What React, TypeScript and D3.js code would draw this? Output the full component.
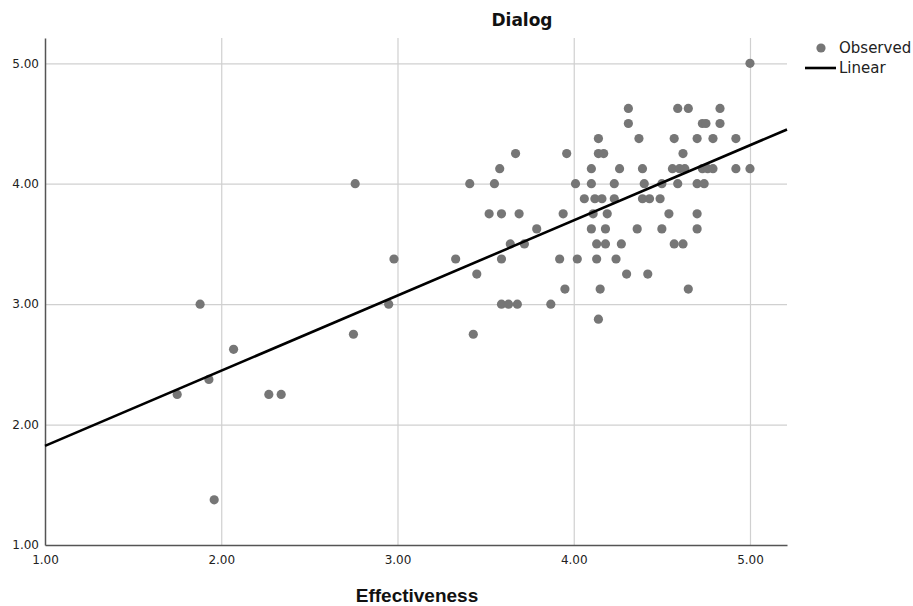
import { useEffect, useRef } from "react";
import * as d3 from "d3";

// Observed points: Effectiveness (x) vs Dialog (y)
const effectiveness = [
  1.75, 1.88, 1.93, 1.96, 2.07, 2.27, 2.34, 2.75, 2.76, 2.95, 2.98,
  3.33, 3.41, 3.43, 3.45, 3.52, 3.55, 3.58, 3.59, 3.59, 3.59, 3.63, 3.64, 3.67, 3.68, 3.69,
  3.72, 3.79, 3.87, 3.92, 3.94, 3.95, 3.96, 4.01, 4.02, 4.06, 4.10, 4.10, 4.10, 4.11, 4.12,
  4.13, 4.13, 4.14, 4.14, 4.14, 4.15, 4.16, 4.17, 4.18, 4.18, 4.19, 4.23, 4.23, 4.24, 4.26, 4.27,
  4.31, 4.59, 4.65, 4.83, 4.31, 4.73, 4.75, 4.83, 4.37, 4.57, 4.70, 4.79, 4.92, 4.62,
  4.39, 4.56, 4.60, 4.63, 4.73, 4.76, 4.79, 4.92, 5.00, 4.40, 4.50, 4.59, 4.70, 4.74,
  4.39, 4.43, 4.49, 4.54, 4.70, 4.36, 4.50, 4.70, 4.57, 4.62, 4.30, 4.42, 4.65, 5.00,
];
const dialog = [
  2.25, 3.0, 2.375, 1.375, 2.625, 2.25, 2.25, 2.75, 4.0, 3.0, 3.375,
  3.375, 4.0, 2.75, 3.25, 3.75, 4.0, 4.125, 3.75, 3.375, 3.0, 3.0, 3.5, 4.25, 3.0, 3.75,
  3.5, 3.625, 3.0, 3.375, 3.75, 3.125, 4.25, 4.0, 3.375, 3.875, 4.125, 4.0, 3.625, 3.75, 3.875,
  3.5, 3.375, 4.375, 4.25, 2.875, 3.125, 3.875, 4.25, 3.625, 3.5, 3.75, 4.0, 3.875, 3.375, 4.125, 3.5,
  4.625, 4.625, 4.625, 4.625, 4.5, 4.5, 4.5, 4.5, 4.375, 4.375, 4.375, 4.375, 4.375, 4.25,
  4.125, 4.125, 4.125, 4.125, 4.125, 4.125, 4.125, 4.125, 4.125, 4.0, 4.0, 4.0, 4.0, 4.0,
  3.875, 3.875, 3.875, 3.75, 3.75, 3.625, 3.625, 3.625, 3.5, 3.5, 3.25, 3.25, 3.125, 5.0,
];
const xTicks = [1, 2, 3, 4, 5];
const yTicks = [1, 2, 3, 4, 5];
const legendLabels = ["Observed", "Linear"];

export default function App() {
  const ref = useRef<SVGSVGElement>(null);

  useEffect(() => {
    if (!ref.current) return;
    const W = 913, H = 606;
    const ML = 45, MR = 126, MT = 38, MB = 61;
    const iW = W - ML - MR, iH = H - MT - MB;

    const svg = d3.select(ref.current).attr("width", W).attr("height", H);
    svg.selectAll("*").remove();
    const g = svg.append("g").attr("transform", `translate(${ML},${MT})`);

    const x = d3.scaleLinear().domain([1, 5.21]).range([0, iW]);
    const y = d3.scaleLinear().domain([1, 5.21]).range([iH, 0]);

    // Grid
    g.append("g")
      .call(d3.axisLeft(y).tickValues(yTicks.slice(1)).tickSize(-iW).tickFormat(() => ""))
      .call(s => s.select(".domain").remove())
      .call(s => s.selectAll("line").attr("stroke", "#d0d0d0").attr("stroke-width", 1.2));
    g.append("g").attr("transform", `translate(0,${iH})`)
      .call(d3.axisBottom(x).tickValues(xTicks.slice(1)).tickSize(-iH).tickFormat(() => ""))
      .call(s => s.select(".domain").remove())
      .call(s => s.selectAll("line").attr("stroke", "#d0d0d0").attr("stroke-width", 1.2));

    // Axes
    g.append("g").attr("transform", `translate(0,${iH})`)
      .call(d3.axisBottom(x).tickValues(xTicks).tickSize(0).tickPadding(10).tickFormat(d3.format(".2f")))
      .call(s => s.select(".domain").attr("stroke", "#555").attr("stroke-width", 1.5))
      .call(s => s.selectAll("text").attr("font-size", 12).attr("font-family", "DejaVu Sans").attr("fill", "#222"));
    g.append("g")
      .call(d3.axisLeft(y).tickValues(yTicks).tickSize(0).tickPadding(6).tickFormat(d3.format(".2f")))
      .call(s => s.select(".domain").attr("stroke", "#555").attr("stroke-width", 1.5))
      .call(s => s.selectAll("text").attr("font-size", 12).attr("font-family", "DejaVu Sans").attr("fill", "#222"));

    // Observed points
    const pts = effectiveness.map((v, i) => ({ x: v, y: dialog[i] }));
    g.selectAll("circle.pt")
      .data(pts)
      .enter().append("circle")
      .attr("class", "pt")
      .attr("cx", d => x(d.x))
      .attr("cy", d => y(d.y))
      .attr("r", 4.6)
      .attr("fill", "#767676");

    // Linear fit (least squares)
    const mx = d3.mean(pts, d => d.x) ?? 0;
    const my = d3.mean(pts, d => d.y) ?? 0;
    const slope = d3.sum(pts, d => (d.x - mx) * (d.y - my)) / d3.sum(pts, d => (d.x - mx) ** 2);
    const icpt = my - slope * mx;
    const [x0, x1] = x.domain();
    g.append("path")
      .datum([x0, x1])
      .attr("d", d3.line<number>().x(v => x(v)).y(v => y(icpt + slope * v)))
      .attr("stroke", "#000").attr("stroke-width", 2.6).attr("fill", "none");

    // Title + axis label
    svg.append("text").attr("x", 522).attr("y", 26)
      .attr("text-anchor", "middle").attr("font-size", 17).attr("font-weight", "bold")
      .attr("font-family", "DejaVu Sans").attr("fill", "#111").text("Dialog");
    svg.append("text").attr("x", 417).attr("y", 602)
      .attr("text-anchor", "middle").attr("font-size", 19).attr("font-weight", "bold")
      .attr("font-family", "Liberation Sans").attr("fill", "#111").text("Effectiveness");

    // Legend
    const lg = svg.append("g").attr("transform", "translate(805,48)");
    lg.append("circle").attr("cx", 16).attr("cy", 0).attr("r", 4.6).attr("fill", "#767676");
    lg.append("line").attr("x1", 0).attr("x2", 31).attr("y1", 20).attr("y2", 20)
      .attr("stroke", "#000").attr("stroke-width", 2.6);
    lg.selectAll("text.lg")
      .data(legendLabels)
      .enter().append("text")
      .attr("class", "lg")
      .attr("x", 34).attr("y", (_, i) => i * 20 + 5)
      .attr("font-size", 15).attr("font-family", "DejaVu Sans").attr("fill", "#222")
      .text(d => d);
  }, []);

  return (
    <div style={{ position: "absolute", left: 0, top: 0 }}>
      <svg ref={ref} style={{ display: "block", background: "#fff" }} />
    </div>
  );
}
